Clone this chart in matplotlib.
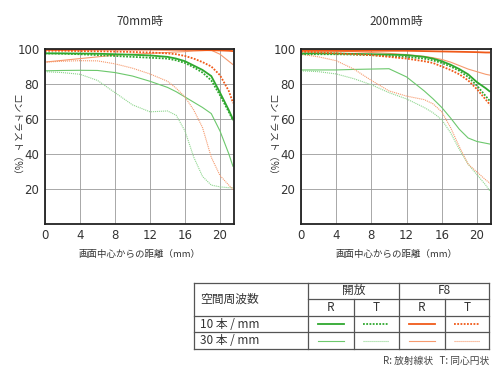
import matplotlib
matplotlib.use("Agg")
import matplotlib.pyplot as plt

plt.rcParams["font.family"] = ["Noto Sans CJK JP", "DejaVu Sans"]

# ── data (MTF, contrast % vs image height mm) ─────────────────────────────
X = [0, 2, 4, 6, 8, 10, 12, 14, 15, 16, 17, 18, 19, 20, 21, 21.5]

# 70mm
w_open_r10 = [97.5, 97.5, 97.4, 97.3, 97, 96.7, 96.3, 95.5, 94.5, 93, 90.5, 88, 84.5, 75, 65, 59.5]
w_open_t10 = [97.5, 97.3, 97, 96.5, 96, 95.5, 95, 94.5, 93.5, 92, 89.5, 86.5, 82, 73.5, 64, 59]
w_open_r30 = [87.5, 87.7, 87.8, 87.7, 86.5, 84.5, 81.5, 78, 75.5, 72.5, 69.5, 66.5, 63, 53, 40, 32.5]
w_open_t30 = [87, 86.5, 85.5, 82, 75, 68, 64, 64.5, 62, 53, 38, 27, 22, 21, 20.5, 20.5]
w_f8_r10 = [99.5, 99.5, 99.6, 99.7, 99.7, 99.7, 99.7, 99.6, 99.6, 99.5, 99.5, 99.4, 99.3, 99.2, 99.0, 98.8]
w_f8_t10 = [99, 99, 98.8, 98.7, 98.5, 98.3, 98, 97.5, 97, 96, 94.5, 92.5, 90, 85, 76, 69]
w_f8_r30 = [92.5, 93.5, 94.5, 95.5, 96.5, 97, 97.5, 98, 98.3, 98.5, 98.8, 99, 99.3, 97, 93, 91]
w_f8_t30 = [92.5, 93, 93.3, 93.2, 91.5, 89, 85.7, 81.5, 77.5, 72.5, 65, 55, 38, 27.5, 22, 19.5]

# 200mm
t_open_r10 = [97.5, 97.5, 97.4, 97.2, 97, 96.8, 96.5, 95.5, 94.5, 93, 91, 88.5, 85.5, 81, 77.5, 75.5]
t_open_t10 = [97, 97, 97, 96.8, 96.5, 96, 95.5, 94.5, 93.5, 92, 90, 87.5, 84, 79, 73, 70]
t_open_r30 = [88, 88, 88, 88.3, 88.5, 88.7, 84, 76, 71.5, 66.5, 60.5, 54, 49, 47, 46, 45.5]
t_open_t30 = [87.5, 87, 85.7, 83, 79.5, 75, 71.4, 66.5, 63.5, 59.5, 52, 42.5, 34, 28, 22, 18.5]
t_f8_r10 = [99, 99, 99, 99, 99, 99, 99, 98.8, 98.7, 98.6, 98.5, 98.4, 98.3, 98.2, 98, 98]
t_f8_t10 = [98.5, 98, 97.5, 97, 96.5, 95.5, 94.5, 93, 92, 90, 88, 85.5, 82, 77, 71, 68]
t_f8_r30 = [99, 98.9, 98.8, 98.5, 98, 97.5, 96.8, 95.8, 95, 94, 92.5, 90.5, 88.5, 87, 85.5, 85]
t_f8_t30 = [97, 95.5, 93.3, 88.5, 82, 76, 73, 71, 68.6, 64, 55, 44, 34, 29.5, 25, 23]

TITLES = ["70mm時", "200mm時"]
XTICKS = [0, 4, 8, 12, 16, 20]
YTICKS = [20, 40, 60, 80, 100]
XLABEL = "画面中心からの距離（mm）"
YLABEL = "コントラスト（%）"

ROW_LABELS = ["10 本 / mm", "30 本 / mm"]
FOOTNOTE = "R: 放射線状   T: 同心円状"

# ── styles ────────────────────────────────────────────────────────────────
G10, G30 = "#2fa82f", "#6cc86c"
O10, O30 = "#f05a1a", "#f69a6e"
DOT = (0, (1, 0.8))
STYLES = {
    "open_r10": dict(color=G10, lw=1.3, ls="-"),
    "open_t10": dict(color=G10, lw=1.3, ls=DOT),
    "open_r30": dict(color=G30, lw=0.8, ls="-"),
    "open_t30": dict(color="#8fd68f", lw=0.8, ls=DOT),
    "f8_r10": dict(color=O10, lw=1.3, ls="-"),
    "f8_t10": dict(color=O10, lw=1.3, ls=DOT),
    "f8_r30": dict(color=O30, lw=0.8, ls="-"),
    "f8_t30": dict(color=O30, lw=0.8, ls=DOT),
}

SETS = [
    {"open_r30": w_open_r30, "open_t30": w_open_t30, "f8_r30": w_f8_r30, "f8_t30": w_f8_t30,
     "open_t10": w_open_t10, "open_r10": w_open_r10, "f8_t10": w_f8_t10, "f8_r10": w_f8_r10},
    {"open_r30": t_open_r30, "open_t30": t_open_t30, "f8_r30": t_f8_r30, "f8_t30": t_f8_t30,
     "open_t10": t_open_t10, "open_r10": t_open_r10, "f8_t10": t_f8_t10, "f8_r10": t_f8_r10},
]

W, H = 500, 375
fig = plt.figure(figsize=(5, 3.75), dpi=100)


def px_axes(x0, y0, x1, y1):
    return fig.add_axes([x0 / W, 1 - y1 / H, (x1 - x0) / W, (y1 - y0) / H])


for i, (left, right) in enumerate([(45, 234), (301, 491)]):
    ax = px_axes(left, 49, right, 223.5)
    for key, ys in SETS[i].items():
        ax.plot(X, ys, **STYLES[key], solid_capstyle="butt")
    ax.set_xlim(0, 21.6)
    ax.set_ylim(0, 100)
    ax.set_xticks(XTICKS)
    ax.set_yticks(YTICKS)
    ax.tick_params(length=0, pad=4, labelsize=8.5, labelcolor="#333")
    for lab in ax.get_xticklabels() + ax.get_yticklabels():
        lab.set_family("DejaVu Sans")
    ax.grid(color="#9a9a9a", lw=0.6)
    ax.set_axisbelow(True)
    for s in ax.spines.values():
        s.set_color("#222")
        s.set_linewidth(1.3)
    cx = (left + right) / 2
    fig.text(cx / W, 1 - 21 / H, TITLES[i], ha="center", va="center", fontsize=8.5, color="#333")
    fig.text(cx / W, 1 - 254 / H, XLABEL, ha="center", va="center", fontsize=6.8, color="#333")
    fig.text((left - 30) / W, 1 - 137 / H, YLABEL, ha="center", va="center",
             rotation=270, fontsize=7, color="#333")

# ── legend table ──────────────────────────────────────────────────────────
tab = fig.add_axes([0, 0, 1, 1])
tab.set_xlim(0, W)
tab.set_ylim(H, 0)
tab.axis("off")

LC = "#555"
x0, x1, x2, x3, x4, x5 = 194, 308, 353.5, 399, 444.5, 489
y0, y1, y2, y3, y4 = 282.5, 299, 315.7, 332.3, 349

for y, xa in [(y0, x0), (y2, x0), (y3, x0), (y4, x0), (y1, x1)]:
    tab.plot([xa, x5], [y, y], color=LC, lw=0.9)
for x, ya in [(x0, y0), (x1, y0), (x3, y0), (x5, y0), (x2, y1), (x4, y1)]:
    tab.plot([x, x], [ya, y4], color=LC, lw=0.9)

tk = dict(fontsize=8.5, color="#333", va="center")
tab.text(x0 + 6, (y0 + y2) / 2, "空間周波数", ha="left", **tk)
tab.text((x1 + x3) / 2, (y0 + y1) / 2, "開放", ha="center", **tk)
tab.text((x3 + x5) / 2, (y0 + y1) / 2, "F8", ha="center", **tk)
cols = [x1, x2, x3, x4, x5]
for j, lab in enumerate(["R", "T", "R", "T"]):
    tab.text((cols[j] + cols[j + 1]) / 2, (y1 + y2) / 2, lab, ha="center", **tk)
tab.text(x0 + 6, (y2 + y3) / 2, ROW_LABELS[0], ha="left", **tk)
tab.text(x0 + 6, (y3 + y4) / 2, ROW_LABELS[1], ha="left", **tk)

keys = [["open_r10", "open_t10", "f8_r10", "f8_t10"],
        ["open_r30", "open_t30", "f8_r30", "f8_t30"]]
for r, yc in enumerate([(y2 + y3) / 2, (y3 + y4) / 2]):
    for j in range(4):
        cx = (cols[j] + cols[j + 1]) / 2
        tab.plot([cx - 13, cx + 13], [yc, yc], **STYLES[keys[r][j]])

tab.text(x5, 361, FOOTNOTE, ha="right", va="center", fontsize=7, color="#444")

fig.savefig("out.png", dpi=100)
